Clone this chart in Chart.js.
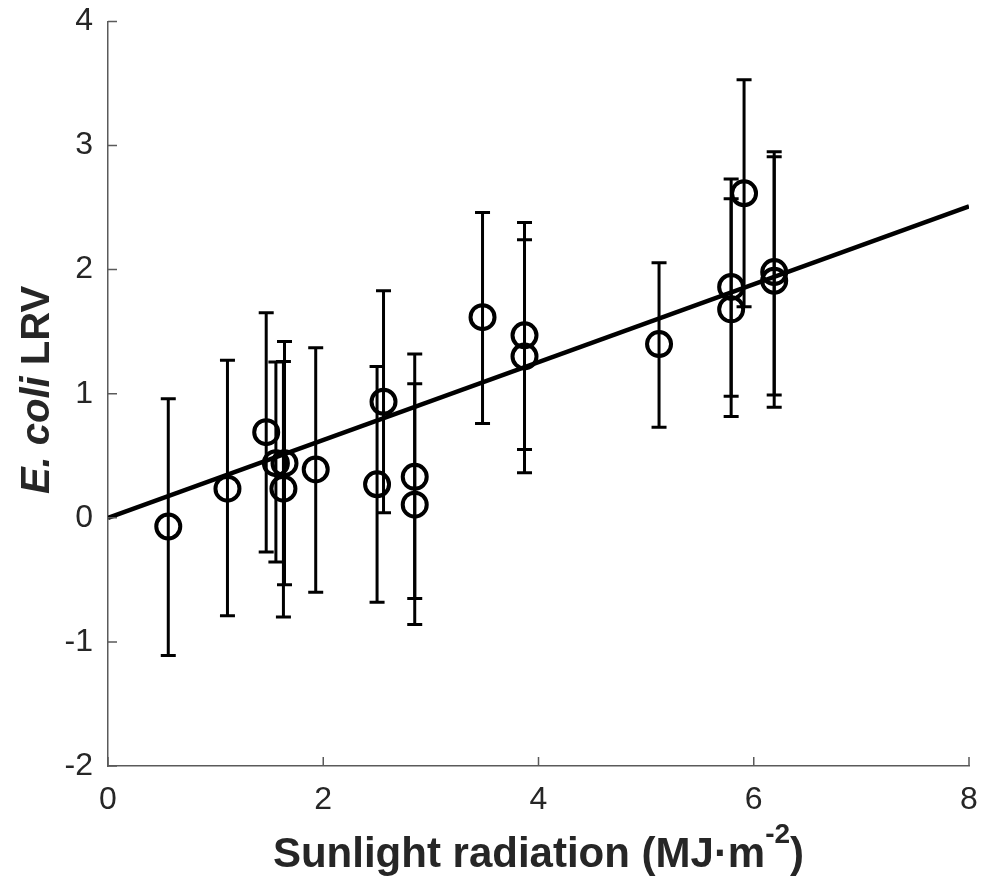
<!DOCTYPE html>
<html lang="en">
<head>
  <meta charset="UTF-8">
  <title>E. coli LRV vs sunlight radiation</title>
  <script src="https://cdn.jsdelivr.net/npm/chart.js"></script>
  <style>
    html, body { margin: 0; padding: 0; background: #fff; }
  </style>
</head>
<body>
  <canvas id="chart" width="990" height="884"></canvas>

  <script>
    // Observations: sunlight radiation (MJ/m2) vs E. coli LRV, with error bar ends
    const radiation = [0.56, 1.11, 1.47, 1.56, 1.64, 1.63, 1.93, 2.50, 2.56, 2.85, 2.85, 3.48, 3.87, 3.87, 5.12, 5.79, 5.79, 5.91, 6.19, 6.19];
    const lrv       = [-0.07, 0.235, 0.69, 0.44, 0.44, 0.235, 0.39, 0.27, 0.935, 0.33, 0.106, 1.617, 1.47, 1.30, 1.40, 1.86, 1.68, 2.615, 1.98, 1.91];
    const lrvLow    = [-1.11, -0.79, -0.275, -0.356, -0.54, -0.80, -0.60, -0.68, 0.04, -0.65, -0.86, 0.76, 0.55, 0.364, 0.73, 0.98, 0.817, 1.70, 0.99, 0.89];
    const lrvHigh   = [0.96, 1.27, 1.652, 1.255, 1.42, 1.26, 1.37, 1.22, 1.83, 1.32, 1.08, 2.46, 2.38, 2.24, 2.055, 2.73, 2.57, 3.53, 2.95, 2.91];

    // regression line through the origin
    const fitX = [0, 8];
    const fitY = [0, 2.51];

    // axes
    const xTicks = [0, 2, 4, 6, 8];
    const yTicks = [-2, -1, 0, 1, 2, 3, 4];

    const FONT = "'Liberation Sans', Arial, sans-serif";
    const TEXT = '#262626';
    const AXIS = '#5a5a5a';

    Chart.defaults.font.family = FONT;
    Chart.defaults.color = TEXT;

    // vertical error bars with caps, placed through the chart's scales
    const errorBars = {
      id: 'errorBars',
      beforeDatasetsDraw(chart) {
        const { ctx, scales: { x, y } } = chart;
        ctx.save();
        ctx.strokeStyle = '#000';
        ctx.lineWidth = 3;
        ctx.lineCap = 'butt';
        radiation.forEach((r, i) => {
          const px = x.getPixelForValue(r);
          const lo = y.getPixelForValue(lrvLow[i]);
          const hi = y.getPixelForValue(lrvHigh[i]);
          ctx.beginPath();
          ctx.moveTo(px, lo); ctx.lineTo(px, hi);
          ctx.moveTo(px - 7.5, lo); ctx.lineTo(px + 7.5, lo);
          ctx.moveTo(px - 7.5, hi); ctx.lineTo(px + 7.5, hi);
          ctx.stroke();
        });
        ctx.restore();
      }
    };

    // inward tick marks and the two axis titles
    const axisDecor = {
      id: 'axisDecor',
      afterDraw(chart) {
        const { ctx, chartArea, scales: { x, y } } = chart;
        ctx.save();
        ctx.strokeStyle = AXIS;
        ctx.lineWidth = 1.5;
        ctx.beginPath();
        xTicks.forEach(v => {
          const px = x.getPixelForValue(v);
          ctx.moveTo(px, chartArea.bottom);
          ctx.lineTo(px, chartArea.bottom - 9);
        });
        yTicks.forEach(v => {
          const py = y.getPixelForValue(v);
          ctx.moveTo(chartArea.left, py);
          ctx.lineTo(chartArea.left + 9, py);
        });
        ctx.stroke();

        ctx.fillStyle = TEXT;
        ctx.textBaseline = 'alphabetic';
        ctx.textAlign = 'left';

        // x title: Sunlight radiation (MJ·m^-2)
        const big = 'bold 42px ' + FONT;
        const small = 'bold 28px ' + FONT;
        const head = 'Sunlight radiation (MJ\u00B7m';
        const sup = '-2';
        const tail = ')';
        ctx.font = big;
        const w1 = ctx.measureText(head).width;
        const w3 = ctx.measureText(tail).width;
        ctx.font = small;
        const w2 = ctx.measureText(sup).width;
        let tx = (chartArea.left + chartArea.right) / 2 - (w1 + w2 + w3) / 2;
        const base = 867;
        ctx.font = big;
        ctx.fillText(head, tx, base);
        tx += w1;
        ctx.font = small;
        ctx.fillText(sup, tx, base - 24);
        tx += w2;
        ctx.font = big;
        ctx.fillText(tail, tx, base);

        // y title: E. coli LRV (species name in italics)
        const yBig = 'bold 40px ' + FONT;
        const it = 'italic bold 40px ' + FONT;
        const part1 = 'E. coli';
        const part2 = ' LRV';
        ctx.font = it;
        const a = ctx.measureText(part1).width;
        ctx.font = yBig;
        const b = ctx.measureText(part2).width;
        ctx.translate(49, 390);
        ctx.rotate(-Math.PI / 2);
        ctx.font = it;
        ctx.fillText(part1, -(a + b) / 2, 0);
        ctx.font = yBig;
        ctx.fillText(part2, -(a + b) / 2 + a, 0);
        ctx.restore();
      }
    };

    new Chart(document.getElementById('chart'), {
      type: 'scatter',
      data: {
        datasets: [
          {
            label: 'LRV',
            data: radiation.map((r, i) => ({ x: r, y: lrv[i] })),
            pointStyle: 'circle',
            pointRadius: 12,
            pointHoverRadius: 12,
            pointBorderWidth: 4,
            borderColor: '#000',
            backgroundColor: 'rgba(0,0,0,0)'
          },
          {
            label: 'Fit',
            data: fitX.map((v, i) => ({ x: v, y: fitY[i] })),
            showLine: true,
            pointRadius: 0,
            borderWidth: 4.5,
            borderColor: '#000'
          }
        ]
      },
      options: {
        responsive: false,
        animation: false,
        layout: { padding: { top: 21, right: 21, left: 0, bottom: 0 } },
        plugins: {
          legend: { display: false },
          tooltip: { enabled: false }
        },
        scales: {
          x: {
            type: 'linear',
            min: 0,
            max: 8,
            afterFit: s => { s.height = 118; },
            afterBuildTicks: s => { s.ticks = xTicks.map(v => ({ value: v })); },
            ticks: { font: { size: 32, lineHeight: 1.5 }, color: TEXT, padding: 10 },
            grid: { display: false, drawTicks: false },
            border: { display: true, color: AXIS, width: 1.5 }
          },
          y: {
            type: 'linear',
            min: -2,
            max: 4,
            afterFit: s => { s.width = 108; },
            afterBuildTicks: s => { s.ticks = yTicks.map(v => ({ value: v })); },
            ticks: { font: { size: 32, lineHeight: 0.4 }, color: TEXT, padding: 15 },
            grid: { display: false, drawTicks: false },
            border: { display: true, color: AXIS, width: 1.5 }
          }
        }
      },
      plugins: [errorBars, axisDecor]
    });
  </script>
</body>
</html>
